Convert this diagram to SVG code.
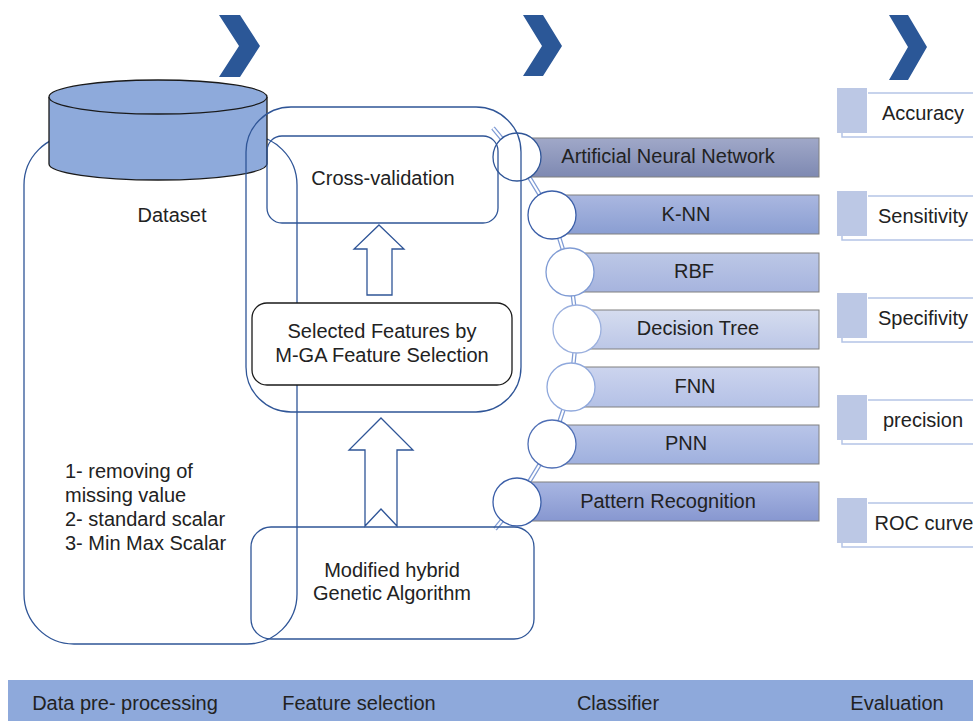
<svg xmlns="http://www.w3.org/2000/svg" width="973" height="721" viewBox="0 0 973 721">
<defs>
<style>
text{font-family:"Liberation Sans",Arial,sans-serif;font-size:20px;fill:#222}
.c{text-anchor:middle}
.bl{fill:none;stroke:#2F5597;stroke-width:1.3}
.chev{fill:#2B5797}
.bar{stroke:#808080;stroke-width:1}
.ev{fill:#BCC8E5}
.evl{fill:none;stroke:#B4C4E6;stroke-width:1.5}
</style>
<linearGradient id="g1" x1="0" y1="0" x2="0" y2="1"><stop offset="0" stop-color="#A0A8C8"/><stop offset="1" stop-color="#7E89B2"/></linearGradient>
<linearGradient id="g2" x1="0" y1="0" x2="0" y2="1"><stop offset="0" stop-color="#AAB7E0"/><stop offset="1" stop-color="#8A9ED2"/></linearGradient>
<linearGradient id="g3" x1="0" y1="0" x2="0" y2="1"><stop offset="0" stop-color="#BCC7E6"/><stop offset="1" stop-color="#A6B4DE"/></linearGradient>
<linearGradient id="g4" x1="0" y1="0" x2="0" y2="1"><stop offset="0" stop-color="#D5DCEF"/><stop offset="1" stop-color="#BCC7E7"/></linearGradient>
<linearGradient id="g5" x1="0" y1="0" x2="0" y2="1"><stop offset="0" stop-color="#CCD4EE"/><stop offset="1" stop-color="#B4C1E6"/></linearGradient>
<linearGradient id="g6" x1="0" y1="0" x2="0" y2="1"><stop offset="0" stop-color="#B9C5E8"/><stop offset="1" stop-color="#9FB0DE"/></linearGradient>
<linearGradient id="g7" x1="0" y1="0" x2="0" y2="1"><stop offset="0" stop-color="#A8B6E2"/><stop offset="1" stop-color="#8797D0"/></linearGradient>
</defs>
<rect width="973" height="721" fill="#fff"/>

<g id="chevrons">
<polygon class="chev" points="219,15 240,15 260,46 240,77 219,77 239,46"/>
<polygon class="chev" points="523,15 543,15 562,46 543,76 523,76 542,46"/>
<polygon class="chev" points="889,15 908,15 927,47 908,80 889,80 908,47"/>
</g>

<g id="preprocessing">
<rect class="bl" x="24" y="135" width="273" height="509" rx="50"/>
<text x="65" y="478">1- removing of</text>
<text x="65" y="502">missing value</text>
<text x="65" y="526">2- standard scalar</text>
<text x="65" y="550">3- Min Max Scalar</text>
</g>

<g id="dataset">
<path d="M49,97 V164 A109,16 0 0 0 267,164 V97 Z" fill="#8EAADB"/>
<path d="M49,97 V164 A109,16 0 0 0 267,164 V97" fill="none" stroke="#1a1a1a" stroke-width="1.3"/>
<ellipse cx="158" cy="97" rx="109" ry="17" fill="#8EAADB" stroke="#1a1a1a" stroke-width="1.3"/>
<text class="c" x="172" y="222">Dataset</text>
</g>

<g id="connectors">
<polygon points="379,225 404,249 392,249 392,295 367,295 367,249 354,249" fill="#fff" stroke="#2F5597" stroke-width="1.3"/>
<polygon points="381,418 413,450 397,450 397,526 381,509 365,526 365,450 349,450" fill="#fff" stroke="#2F5597" stroke-width="1.3"/>
<polyline points="493,128 517,157 552,215 570,272 577,329 571,387 552,444 517,502 495,529" fill="none" stroke="#7F9BD4" stroke-width="4.5"/>
<polyline points="493,128 517,157 552,215 570,272 577,329 571,387 552,444 517,502 495,529" fill="none" stroke="#fff" stroke-width="2"/>
</g>

<g id="ann">
<rect class="bar" x="517" y="138" width="302" height="39" fill="url(#g1)"/>
<circle cx="517" cy="157" r="24" fill="#fff" stroke="#2F5597" stroke-width="1.3"/>
<text class="c" x="668" y="163">Artificial Neural Network</text>
</g>
<g id="knn">
<rect class="bar" x="552" y="195" width="267" height="39" fill="url(#g2)"/>
<circle cx="552" cy="215" r="24" fill="#fff" stroke="#3A5EA8" stroke-width="1.3"/>
<text class="c" x="686" y="221">K-NN</text>
</g>
<g id="rbf">
<rect class="bar" x="570" y="253" width="249" height="39" fill="url(#g3)"/>
<circle cx="570" cy="272" r="24" fill="#fff" stroke="#7F9BD4" stroke-width="1.3"/>
<text class="c" x="694" y="278">RBF</text>
</g>
<g id="decision-tree">
<rect class="bar" x="577" y="310" width="242" height="39" fill="url(#g4)"/>
<circle cx="577" cy="329" r="24" fill="#fff" stroke="#9BB0DE" stroke-width="1.3"/>
<text class="c" x="698" y="335">Decision Tree</text>
</g>
<g id="fnn">
<rect class="bar" x="571" y="367" width="248" height="40" fill="url(#g5)"/>
<circle cx="571" cy="387" r="24" fill="#fff" stroke="#8FA8DC" stroke-width="1.3"/>
<text class="c" x="695" y="393">FNN</text>
</g>
<g id="pnn">
<rect class="bar" x="552" y="425" width="267" height="39" fill="url(#g6)"/>
<circle cx="552" cy="444" r="24" fill="#fff" stroke="#4F6FB5" stroke-width="1.3"/>
<text class="c" x="686" y="450">PNN</text>
</g>
<g id="pattern-recognition">
<rect class="bar" x="517" y="482" width="302" height="39" fill="url(#g7)"/>
<circle cx="517" cy="502" r="24" fill="#fff" stroke="#3A5EA8" stroke-width="1.3"/>
<text class="c" x="668" y="508">Pattern Recognition</text>
</g>

<g id="feature-selection">
<rect class="bl" x="246" y="107" width="275" height="305" rx="45"/>
</g>

<g id="cross-validation">
<rect class="bl" x="267" y="136" width="231" height="87" rx="15"/>
<text class="c" x="383" y="185">Cross-validation</text>
</g>

<g id="selected-features">
<rect x="252" y="303" width="260" height="82" rx="15" fill="#fff" stroke="#1a1a1a" stroke-width="1.3"/>
<text class="c" x="382" y="338">Selected Features by</text>
<text class="c" x="382" y="362">M-GA Feature Selection</text>
</g>

<g id="modified-hybrid-ga">
<rect class="bl" x="251" y="527" width="283" height="112" rx="20"/>
<text class="c" x="392" y="577">Modified hybrid</text>
<text class="c" x="392" y="600">Genetic Algorithm</text>
</g>

<g id="accuracy">
<rect class="ev" x="837" y="88" width="30" height="45"/>
<line class="evl" x1="868" y1="93" x2="973" y2="93"/>
<polyline class="evl" points="842,133 842,137 973,137"/>
<text class="c" x="923" y="120">Accuracy</text>
</g>
<g id="sensitivity">
<rect class="ev" x="837" y="191" width="30" height="45"/>
<line class="evl" x1="868" y1="196" x2="973" y2="196"/>
<polyline class="evl" points="842,236 842,240 973,240"/>
<text class="c" x="923" y="223">Sensitivity</text>
</g>
<g id="specifivity">
<rect class="ev" x="837" y="293" width="30" height="45"/>
<line class="evl" x1="868" y1="298" x2="973" y2="298"/>
<polyline class="evl" points="842,338 842,342 973,342"/>
<text class="c" x="923" y="325">Specifivity</text>
</g>
<g id="precision">
<rect class="ev" x="837" y="395" width="30" height="45"/>
<line class="evl" x1="868" y1="400" x2="973" y2="400"/>
<polyline class="evl" points="842,440 842,444 973,444"/>
<text class="c" x="923" y="427">precision</text>
</g>
<g id="roc-curve">
<rect class="ev" x="837" y="498" width="30" height="45"/>
<line class="evl" x1="868" y1="503" x2="973" y2="503"/>
<polyline class="evl" points="842,543 842,547 973,547"/>
<text class="c" x="924" y="530">ROC curve</text>
</g>

<g id="stage-bar">
<rect x="8" y="680" width="965" height="41" fill="#8EA9DB"/>
<text class="c" x="125" y="710">Data pre- processing</text>
<text class="c" x="359" y="710">Feature selection</text>
<text class="c" x="618" y="710">Classifier</text>
<text class="c" x="897" y="710">Evaluation</text>
</g>
</svg>
